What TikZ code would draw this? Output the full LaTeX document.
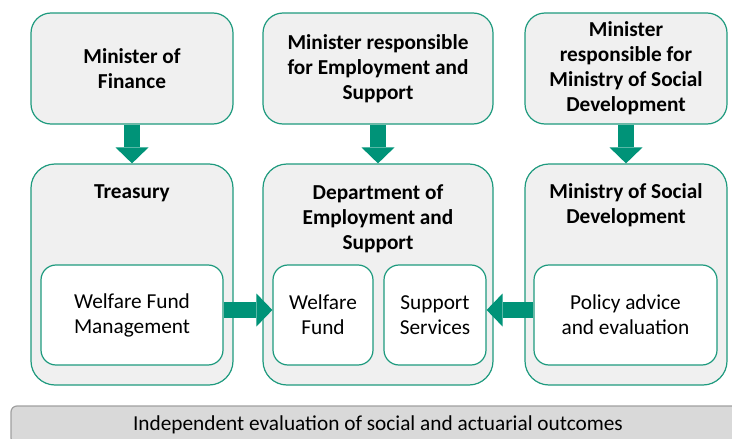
\documentclass[tikz,border=0pt]{standalone}
\usepackage{fontspec}
\setmainfont{Carlito}
\usetikzlibrary{arrows.meta}
\definecolor{boxgreen}{HTML}{1E9A7E}
\definecolor{arrowgreen}{HTML}{009378}
\definecolor{boxgrey}{HTML}{F0F0F0}
\definecolor{bargrey}{HTML}{D9D9D9}
\definecolor{barline}{HTML}{A0A0A0}

\begin{document}
\begin{tikzpicture}[x=1pt, y=-1pt,
		topbox/.style={draw=boxgreen, line width=1.2pt, fill=boxgrey, rounded corners=20pt, inner sep=0pt, minimum height=111pt, align=center, font=\fontsize{21.3}{25}\selectfont\bfseries},
		bigbox/.style={draw=boxgreen, line width=1.2pt, fill=boxgrey, rounded corners=24pt, inner sep=0pt, minimum height=221pt},
		titletext/.style={align=center, inner sep=0pt, font=\fontsize{21.3}{25}\selectfont\bfseries},
		unitbox/.style={draw=boxgreen, line width=1.2pt, fill=white, rounded corners=15pt, inner sep=0pt, minimum height=100pt, align=center, font=\fontsize{21.3}{25}\selectfont},
		blockarrow/.style={arrowgreen, line width=16pt, -{Triangle[width=33pt, length=16pt, line width=0pt]}}]
		%%%%% START %%%%%
		\clip (0, 0) rectangle (732, 439);
		
		% ministers
		\node[topbox, minimum width=202pt] (fin) at (132, 68.5) {Minister of\\Finance};
		\node[topbox, minimum width=230pt] (empmin) at (378, 68.5) {Minister responsible\\for Employment and\\Support};
		\node[topbox, minimum width=202pt] (msdmin) at (626, 68.5) {Minister\\responsible for\\Ministry of Social\\Development};
		
		% agencies
		\node[bigbox, minimum width=202pt] (treasury) at (132, 274.5) {};
		\node[bigbox, minimum width=230pt] (dept) at (378, 274.5) {};
		\node[bigbox, minimum width=202pt] (msd) at (626, 274.5) {};
		
		\node[titletext] (treasurytitle) at (132, 193) {Treasury};
		\node[titletext] (depttitle) at (378, 218.5) {Department of\\Employment and\\Support};
		\node[titletext] (msdtitle) at (626, 205.5) {Ministry of Social\\Development};
		
		% units
		\node[unitbox, minimum width=182pt] (wfm) at (132, 315) {Welfare Fund\\Management};
		\node[unitbox, minimum width=100pt] (wf) at (323, 315) {Welfare\\Fund};
		\node[unitbox, minimum width=102pt] (ss) at (435, 315) {Support\\Services};
		\node[unitbox, minimum width=183pt] (policy) at (625.5, 315) {Policy advice\\and evaluation};
		
		% arrows
		\draw[blockarrow] (fin.south) -- (treasury.north);
		\draw[blockarrow] (empmin.south) -- (dept.north);
		\draw[blockarrow] (msdmin.south) -- (msd.north);
		\draw[blockarrow] ([yshift=5pt]wfm.east) -- ([yshift=5pt]wf.west);
		\draw[blockarrow] ([yshift=5pt]policy.west) -- ([yshift=5pt]ss.east);
		
		% evaluation
		\node[draw=barline, line width=1.2pt, fill=bargrey, rounded corners=6pt, minimum width=734pt, minimum height=38pt, inner sep=0pt, font=\fontsize{21.3}{25}\selectfont] (review) at (378, 425) {Independent evaluation of social and actuarial outcomes};
		
		%%%%% END %%%%%
\end{tikzpicture}
\end{document}
